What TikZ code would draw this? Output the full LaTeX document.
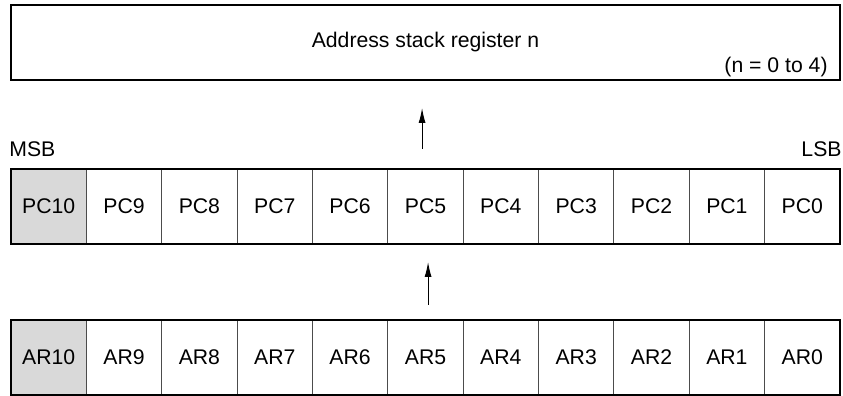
\documentclass[tikz,border=0pt]{standalone}
\usepackage{fontspec}
\setmainfont{Liberation Sans}
\usetikzlibrary{arrows.meta,calc,positioning}

\begin{document}
\begin{tikzpicture}[x=1pt,y=1pt,
  every node/.style={align=center,font=\fontsize{10.6pt}{12pt}\selectfont},
  cell/.style={draw=black!70,line width=0.5pt,minimum width=37.68pt,minimum height=37.5pt,inner sep=0pt,outer sep=0pt},
  frame/.style={draw,line width=1pt},
  flow/.style={-{Latex[length=7.5pt,width=3.5pt]},line width=0.5pt}]
\useasboundingbox (0,0) rectangle (421.5,198);
\node [frame,minimum width=414.5pt,minimum height=37.5pt,inner sep=0pt] (StackReg) at (212.75,176.75) {Address stack register n};
\node [anchor=base east,inner sep=0pt] (StackRange) at ($(StackReg.south east)+(-6.5,4)$) {(n = 0 to 4)};
\foreach \i in {10,...,0} {
  \pgfmathtruncatemacro\shade{\i==10 ? 15 : 0}
  \node [cell,fill=black!\shade] (PC\i) at ({5.5+(10.5-\i)*37.68},94.75) {PC\i};
  \node [cell,fill=black!\shade] (AR\i) at ({5.5+(10.5-\i)*37.68},19.25) {AR\i};
}
\draw [frame] (PC10.north west) rectangle (PC0.south east);
\draw [frame] (AR10.north west) rectangle (AR0.south east);
\node [anchor=base west,inner sep=0pt] (MSBLabel) at ([xshift=-1pt,yshift=6pt]PC10.north west) {MSB};
\node [anchor=base east,inner sep=0pt] (LSBLabel) at ([xshift=1pt,yshift=6pt]PC0.north east) {LSB};
\draw [flow,shorten <=10pt,shorten >=13.5pt] ([xshift=-1.7pt]PC5.north) -- ([xshift=-1.7pt]PC5.north |- StackReg.south);
\draw [flow,shorten <=7.5pt,shorten >=9pt] ([xshift=1.3pt]AR5.north) -- ([xshift=1.3pt]PC5.south);
\end{tikzpicture}
\end{document}
